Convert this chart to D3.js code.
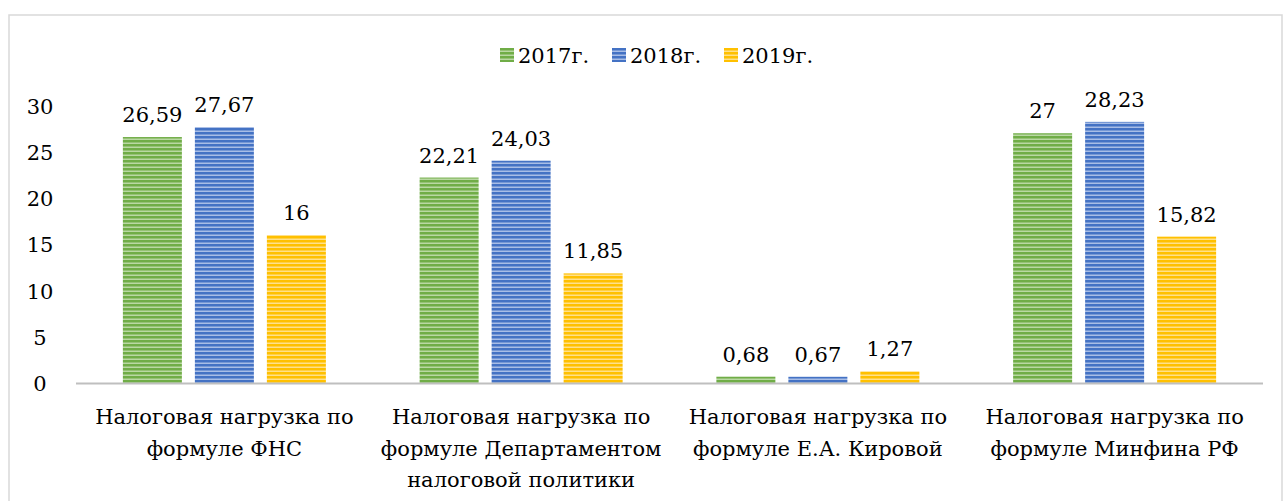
<!DOCTYPE html>
<html>
<head>
<meta charset="utf-8">
<script src="https://cdn.jsdelivr.net/npm/d3@7"></script>
<style>
  html, body { margin: 0; padding: 0; background: #fff; }
  svg { display: block; }
</style>
</head>
<body>
<svg id="chart" width="1283" height="501"></svg>
<script>
const categories = [
  ["Налоговая нагрузка по", "формуле ФНС"],
  ["Налоговая нагрузка по", "формуле Департаментом", "налоговой политики"],
  ["Налоговая нагрузка по", "формуле Е.А. Кировой"],
  ["Налоговая нагрузка по", "формуле Минфина РФ"]
];
const seriesNames = ["2017г.", "2018г.", "2019г."];
const values2017 = [26.59, 22.21, 0.68, 27];
const values2018 = [27.67, 24.03, 0.67, 28.23];
const values2019 = [16, 11.85, 1.27, 15.82];
const valueLabels2017 = ["26,59", "22,21", "0,68", "27"];
const valueLabels2018 = ["27,67", "24,03", "0,67", "28,23"];
const valueLabels2019 = ["16", "11,85", "1,27", "15,82"];
const yTicks = [0, 5, 10, 15, 20, 25, 30];
const colors = ["#70ad47", "#4472c4", "#ffc000"];
const lightColors = ["#b9d8a3", "#a8bde6", "#ffe08a"];

const series = [
  { name: seriesNames[0], values: values2017, labels: valueLabels2017 },
  { name: seriesNames[1], values: values2018, labels: valueLabels2018 },
  { name: seriesNames[2], values: values2019, labels: valueLabels2019 }
];

(function () {
const FONT = "'DejaVu Serif', serif";
const svg = d3.select("#chart")
  .attr("font-family", FONT)
  .style("font-family", FONT);
const FS = 21;

svg.append("rect")
  .attr("x", 9).attr("y", 15)
  .attr("width", 1273).attr("height", 520)
  .attr("fill", "none").attr("stroke", "#d9d9d9").attr("stroke-width", 1.5);

const defs = svg.append("defs");
colors.forEach((c, i) => {
  const p = defs.append("pattern")
    .attr("id", "pat" + i)
    .attr("patternUnits", "userSpaceOnUse")
    .attr("width", 8).attr("height", 4);
  p.append("rect").attr("width", 8).attr("height", 4).attr("fill", c);
  p.append("rect").attr("y", 2.5).attr("width", 8).attr("height", 1.5).attr("fill", lightColors[i]);
});

const mLeft = 76, mRight = 1263, mTop = 105.5, mBottom = 383;

const x0 = d3.scaleBand().domain(d3.range(categories.length)).range([mLeft, mRight]);
const y = d3.scaleLinear().domain([0, 30]).range([mBottom, mTop]);

const barW = 59, gap = 13;
const groupW = barW * 3 + gap * 2;
const x1 = d3.scaleBand().domain(d3.range(series.length)).range([0, groupW]).paddingInner(gap / (barW + gap));

series.forEach((s, si) => {
  const g = svg.append("g");
  g.selectAll("rect").data(s.values).join("rect")
    .attr("x", (d, i) => x0(i) + x0.bandwidth() / 2 - groupW / 2 + x1(si))
    .attr("y", d => y(d))
    .attr("width", x1.bandwidth())
    .attr("height", d => y(0) - y(d))
    .attr("fill", "url(#pat" + si + ")");
  g.selectAll("text").data(s.values).join("text")
    .attr("x", (d, i) => x0(i) + x0.bandwidth() / 2 - groupW / 2 + x1(si) + x1.bandwidth() / 2)
    .attr("y", d => y(d) - 15)
    .attr("text-anchor", "middle")
    .attr("font-family", FONT)
    .attr("font-size", FS)
    .text((d, i) => s.labels[i]);
});

svg.append("line")
  .attr("x1", mLeft).attr("x2", mRight)
  .attr("y1", y(0) + 0.5).attr("y2", y(0) + 0.5)
  .attr("stroke", "#bfbfbf").attr("stroke-width", 2);

svg.append("g").selectAll("text").data(yTicks).join("text")
  .attr("x", 40)
  .attr("y", d => y(d) + 8)
  .attr("text-anchor", "middle")
  .attr("font-family", FONT)
  .attr("font-size", FS)
  .text(d => d);

categories.forEach((lines, i) => {
  const t = svg.append("text")
    .attr("text-anchor", "middle")
    .attr("font-family", FONT)
    .attr("font-size", FS);
  lines.forEach((ln, j) => {
    t.append("tspan")
      .attr("x", x0(i) + x0.bandwidth() / 2)
      .attr("y", 424 + j * 31.5)
      .text(ln);
  });
});

const legendX = [500, 612, 724];
const lg = svg.append("g");
series.forEach((s, si) => {
  lg.append("rect")
    .attr("x", legendX[si]).attr("y", 48)
    .attr("width", 14).attr("height", 14)
    .attr("fill", "url(#pat" + si + ")");
  lg.append("text")
    .attr("x", legendX[si] + 18).attr("y", 63)
    .attr("font-family", FONT)
    .attr("font-size", FS)
    .text(s.name);
});
})();
</script>
</body>
</html>
